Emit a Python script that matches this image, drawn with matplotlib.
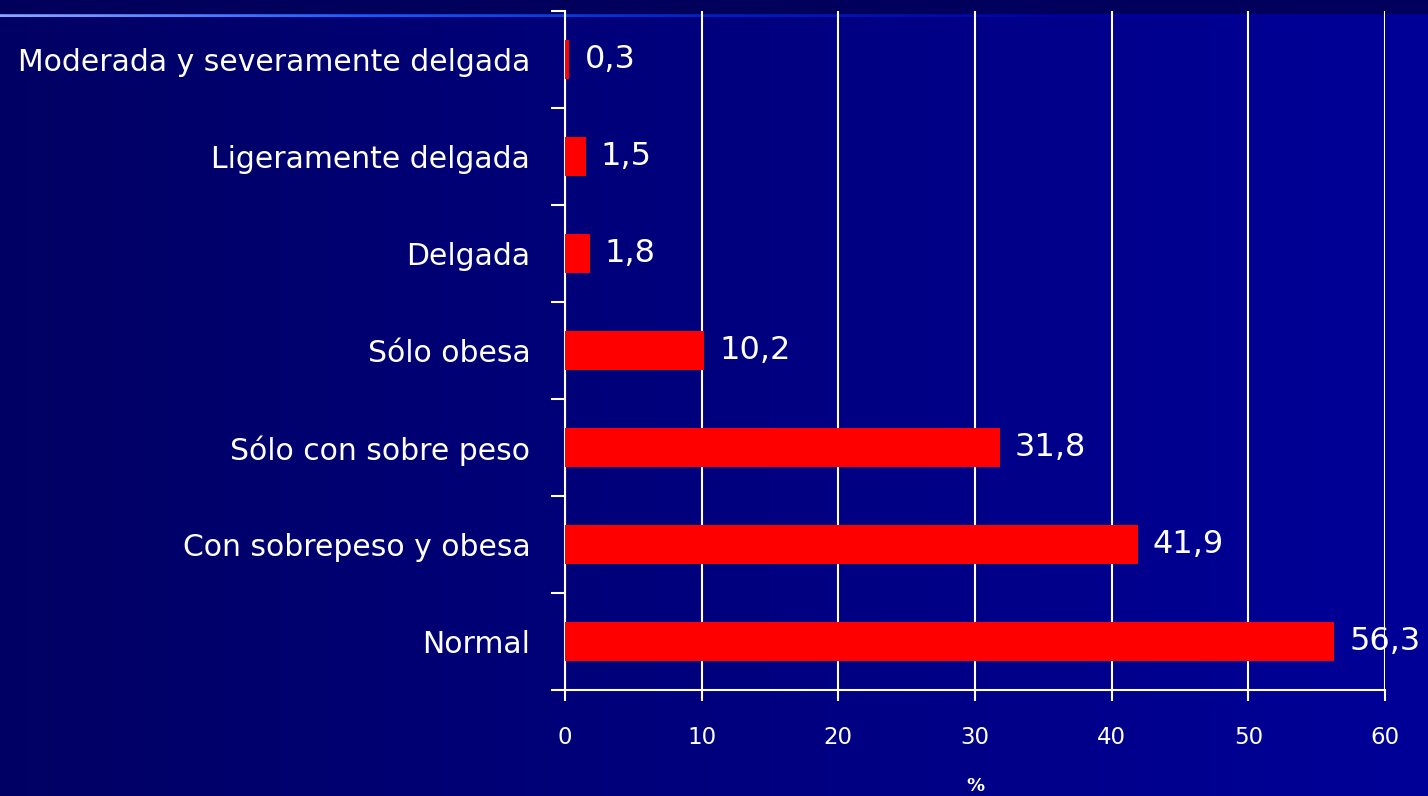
import matplotlib.pyplot as plt
import matplotlib.colors as mcolors
import numpy as np

categories = ['Normal', 'Con sobrepeso y obesa', 'Sólo con sobre peso', 'Sólo obesa',
              'Delgada', 'Ligeramente delgada', 'Moderada y severamente delgada']
values = [56.3, 41.9, 31.8, 10.2, 1.8, 1.5, 0.3]
labels = ['56,3', '41,9', '31,8', '10,2', '1,8', '1,5', '0,3']
xticks = [0, 10, 20, 30, 40, 50, 60]

plt.rcParams['font.family'] = ['DejaVu Sans']

fig = plt.figure(figsize=(14.28, 7.96), dpi=100)

# background gradient
bg = fig.add_axes([0, 0, 1, 1], zorder=-10)
grad = np.linspace(0, 1, 256).reshape(1, -1)
cmap = mcolors.LinearSegmentedColormap.from_list('bg', ['#000064', '#000098'])
bg.imshow(grad, aspect='auto', cmap=cmap, extent=[0, 1, 0, 1])
bg.fill_between([0, 1], 1 - 13 / 796, 1, color='#00005c')
line_cmap = mcolors.LinearSegmentedColormap.from_list(
    'ln', ['#8aa8ff', '#1a5cff', '#0020c0', '#0000a0', '#000098'])
line = np.linspace(0, 1, 256).reshape(1, -1)
bg.imshow(line, aspect='auto', cmap=line_cmap,
          extent=[0, 1, 1 - 17 / 796, 1 - 13 / 796])
bg.set_xlim(0, 1)
bg.set_ylim(0, 1)
bg.axis('off')

ax = fig.add_axes([565 / 1428, 1 - 690 / 796, 820 / 1428, 679 / 796])
ax.patch.set_alpha(0)
y = np.arange(len(categories))
ax.barh(y, values, height=0.4, color='#ff0000', zorder=3)
for yi, v, lab in zip(y, values, labels):
    ax.annotate(lab, (v, yi), xytext=(11, 0), textcoords='offset points',
                va='center', ha='left', color='white', fontsize=23, zorder=4)

ax.set_xlim(0, 60)
ax.set_ylim(-0.5, len(categories) - 0.5)
ax.set_xticks(xticks)
ax.set_xticklabels([str(t) for t in xticks])
ax.xaxis.grid(True, color='white', lw=1.5, zorder=1)
ax.tick_params(axis='x', colors='white', length=8, width=1.5, pad=18, labelsize=16.5)

ax.set_yticks(np.arange(-0.5, len(categories), 1))
ax.set_yticklabels([])
ax.set_yticks(y, minor=True)
ax.set_yticklabels(categories, minor=True)
ax.tick_params(axis='y', which='major', colors='white', length=10, width=1.5)
ax.tick_params(axis='y', which='minor', length=0, pad=25, labelcolor='white',
               labelsize=21.5)

for s in ['top', 'right']:
    ax.spines[s].set_visible(False)
for s in ['left', 'bottom']:
    ax.spines[s].set_color('white')
    ax.spines[s].set_linewidth(1.5)

ax.set_xlabel('%', color='white', fontsize=13, fontweight='bold', labelpad=20)

fig.savefig('out.png', dpi=100)
